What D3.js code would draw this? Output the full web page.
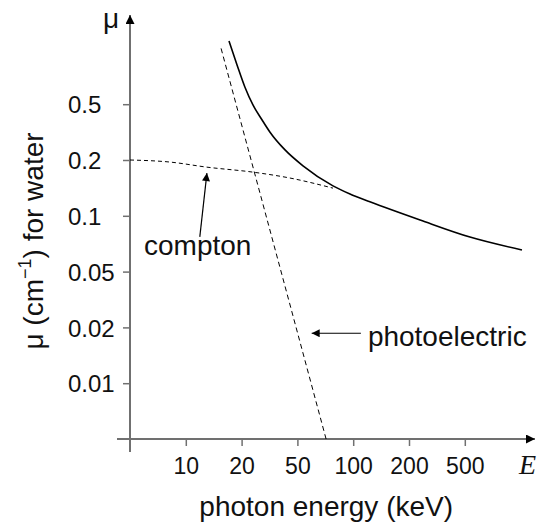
<!DOCTYPE html>
<html>
<head>
<meta charset="utf-8">
<script src="https://cdn.jsdelivr.net/npm/d3@7"></script>
<style>
  html, body { margin: 0; padding: 0; background: #fff; }
  svg { display: block; }
</style>
</head>
<body>
<svg id="chart" width="540" height="525"></svg>
<script>
// ---- data ----
const xTicks = [10, 20, 50, 100, 200, 500];
const yTicks = [0.5, 0.2, 0.1, 0.05, 0.02, 0.01];
// schematic axis: each 1-2-5 step gets the same length
const xSteps = [5, 10, 20, 50, 100, 200, 500, 1000];
const ySteps = [0.005, 0.01, 0.02, 0.05, 0.1, 0.2, 0.5, 1];

const totalE  = [17.1, 18.9, 21.1, 24.1, 28.0, 31.8, 40.8, 53.6, 77.8, 96.1, 123, 240, 533, 1017];
const totalMu = [1.097, 0.814, 0.619, 0.494, 0.386, 0.317, 0.236, 0.186, 0.145, 0.131, 0.119, 0.0949, 0.0768, 0.0654];

const comptonE  = [5, 8.2, 13.0, 24.1, 44.0, 77.8];
const comptonMu = [0.2, 0.195, 0.183, 0.172, 0.16, 0.141];

const photoE  = [15.5, 71.4];
const photoMu = [1.0, 0.005];

// ---- layout ----
const FONT = "'Liberation Sans', Arial, Helvetica, sans-serif";
const svg = d3.select("#chart");
const ox = 130, oy = 439, step = 55.8;

const x = d3.scaleLog()
  .domain(xSteps)
  .range(xSteps.map((d, i) => ox + i * step));
const y = d3.scaleLog()
  .domain(ySteps)
  .range(ySteps.map((d, i) => oy - i * step));

// ---- axes ----
const axisColor = "#707070";
const defs = svg.append("defs");
defs.append("marker").attr("id", "ah").attr("viewBox", "0 0 10 10")
  .attr("refX", 10).attr("refY", 5).attr("markerWidth", 14).attr("markerHeight", 9)
  .attr("markerUnits", "userSpaceOnUse").attr("orient", "auto")
  .append("path").attr("d", "M0,0 L10,5 L0,10 Z").attr("fill", "#000");
defs.append("marker").attr("id", "ah2").attr("viewBox", "0 0 10 10")
  .attr("refX", 10).attr("refY", 5).attr("markerWidth", 13).attr("markerHeight", 8)
  .attr("markerUnits", "userSpaceOnUse").attr("orient", "auto")
  .append("path").attr("d", "M0,0 L10,5 L0,10 Z").attr("fill", "#000");

svg.append("line").attr("x1", 117).attr("x2", 535).attr("y1", oy).attr("y2", oy)
  .attr("stroke", axisColor).attr("stroke-width", 2).attr("marker-end", "url(#ah)");
svg.append("line").attr("x1", ox).attr("x2", ox).attr("y1", 452).attr("y2", 15)
  .attr("stroke", axisColor).attr("stroke-width", 2).attr("marker-end", "url(#ah)");

const gx = svg.append("g").attr("transform", `translate(0,${oy})`)
  .call(d3.axisBottom(x).tickValues(xTicks).tickFormat(d3.format("d")).tickSize(7).tickPadding(12));
gx.select(".domain").remove();
gx.selectAll(".tick line").attr("stroke", axisColor).attr("stroke-width", 1.5);
gx.selectAll(".tick text").attr("fill", "#111")
  .style("font-family", FONT).style("font-size", "23px");

const gy = svg.append("g").attr("transform", `translate(${ox},0)`)
  .call(d3.axisLeft(y).tickValues(yTicks).tickFormat(d => String(d)).tickSize(7));
gy.select(".domain").remove();
gy.selectAll(".tick line").attr("stroke", axisColor).attr("stroke-width", 1.5);
gy.selectAll(".tick text").attr("fill", "#111")
  .style("font-family", FONT).style("font-size", "24px")
  .attr("text-anchor", "start").attr("x", 68 - ox).attr("dy", "0.36em");

// axis titles
const T = (sel, size) => sel.style("font-family", FONT).style("font-size", size + "px").attr("fill", "#111");
T(svg.append("text").attr("x", 111).attr("y", 28).attr("text-anchor", "middle"), 28).text("μ");
svg.append("text").attr("x", 519).attr("y", 474).attr("fill", "#111")
  .style("font-family", "'Liberation Serif', 'Times New Roman', serif").style("font-style", "italic")
  .style("font-size", "28px").text("E");
T(svg.append("text").attr("x", (x(10) + x(1000)) / 2 - 27).attr("y", 516).attr("text-anchor", "middle"), 28)
  .text("photon energy (keV)");
const yl = T(svg.append("text").attr("text-anchor", "middle")
  .attr("transform", "translate(43,241) rotate(-90)"), 28);
yl.append("tspan").text("μ (cm");
yl.append("tspan").style("font-size", "18px").attr("dy", -12).text("−1");
yl.append("tspan").attr("dy", 12).text(") for water");

// ---- curves ----
const line = d3.line().x(d => x(d[0])).y(d => y(d[1]));
svg.append("path").datum(totalE.map((e, i) => [e, totalMu[i]]))
  .attr("d", line.curve(d3.curveMonotoneX)).attr("fill", "none")
  .attr("stroke", "#000").attr("stroke-width", 1.6);
svg.append("path").datum(comptonE.map((e, i) => [e, comptonMu[i]]))
  .attr("d", line.curve(d3.curveMonotoneX)).attr("fill", "none")
  .attr("stroke", "#000").attr("stroke-width", 1).attr("stroke-dasharray", "4,3");
svg.append("path").datum(photoE.map((e, i) => [e, photoMu[i]]))
  .attr("d", line.curve(d3.curveLinear)).attr("fill", "none")
  .attr("stroke", "#000").attr("stroke-width", 1).attr("stroke-dasharray", "5,3.5");

// ---- annotations ----
svg.append("line").attr("x1", x(11.9)).attr("y1", y(0.077)).attr("x2", x(13.0)).attr("y2", y(0.170))
  .attr("stroke", "#000").attr("stroke-width", 1.2).attr("marker-end", "url(#ah2)");
T(svg.append("text").attr("x", x(11.6)).attr("y", y(0.0614)).attr("text-anchor", "middle"), 28)
  .text("compton");

svg.append("line").attr("x1", x(110)).attr("y1", y(0.0186)).attr("x2", x(59.7)).attr("y2", y(0.0186))
  .attr("stroke", "#000").attr("stroke-width", 1.2).attr("marker-end", "url(#ah2)");
T(svg.append("text").attr("x", x(120)).attr("y", y(0.0186) + 13).attr("text-anchor", "start"), 28)
  .text("photoelectric");
</script>
</body>
</html>
